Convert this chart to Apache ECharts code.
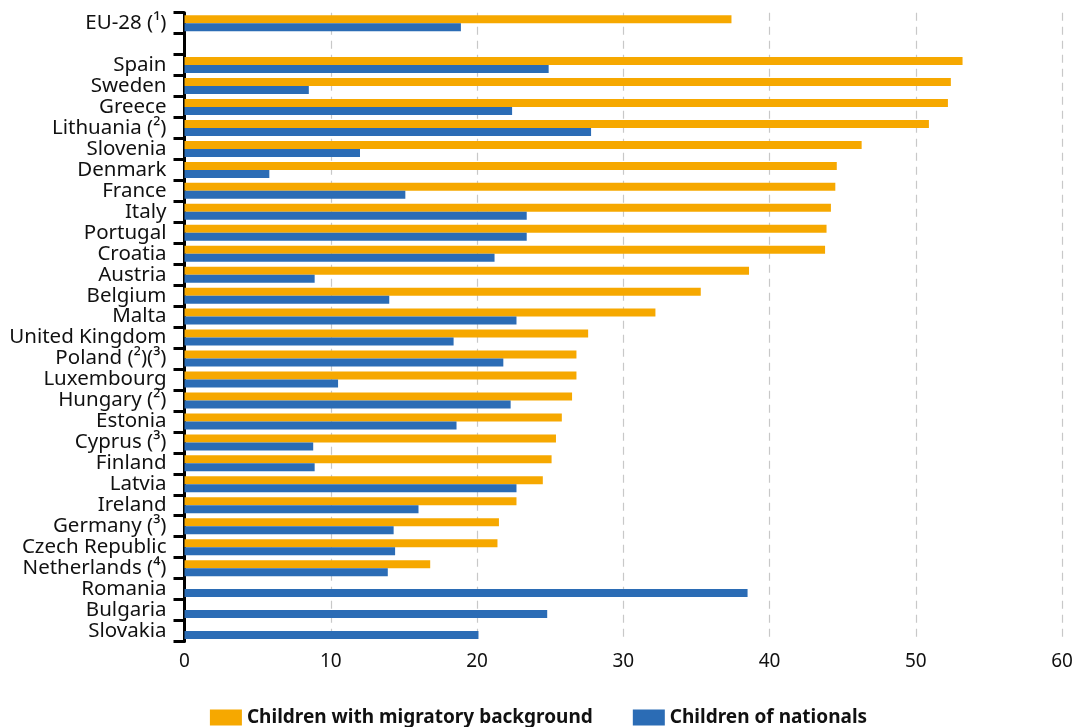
<!DOCTYPE html>
<html><head><meta charset="utf-8">
<script src="https://cdn.jsdelivr.net/npm/echarts@6/dist/echarts.min.js"></script>
<style>html,body{margin:0;padding:0;background:#fff}#c{width:1077px;height:727px}</style>
</head><body><div id="c"></div>
<script>
const categories = ['EU-28 (¹)', '', 'Spain', 'Sweden', 'Greece', 'Lithuania (²)', 'Slovenia', 'Denmark', 'France', 'Italy', 'Portugal', 'Croatia', 'Austria', 'Belgium', 'Malta', 'United Kingdom', 'Poland (²)(³)', 'Luxembourg', 'Hungary (²)', 'Estonia', 'Cyprus (³)', 'Finland', 'Latvia', 'Ireland', 'Germany (³)', 'Czech Republic', 'Netherlands (⁴)', 'Romania', 'Bulgaria', 'Slovakia'];
const migratory = [37.4, null, 53.2, 52.4, 52.2, 50.9, 46.3, 44.6, 44.5, 44.2, 43.9, 43.8, 38.6, 35.3, 32.2, 27.6, 26.8, 26.8, 26.5, 25.8, 25.4, 25.1, 24.5, 22.7, 21.5, 21.4, 16.8, null, null, null];
const nationals = [18.9, null, 24.9, 8.5, 22.4, 27.8, 12.0, 5.8, 15.1, 23.4, 23.4, 21.2, 8.9, 14.0, 22.7, 18.4, 21.8, 10.5, 22.3, 18.6, 8.8, 8.9, 22.7, 16.0, 14.3, 14.4, 13.9, 38.5, 24.8, 20.1];
const xTicks = [0, 10, 20, 30, 40, 50, 60];
const seriesNames = ['Children with migratory background', 'Children of nationals'];

const chart = echarts.init(document.getElementById('c'), null, {renderer: 'canvas'});
const FONT = 'Noto Sans';
chart.setOption({
  animation: false,
  grid: {left: 184.5, right: 15, top: 12.7, bottom: 85.5, containLabel: false},
  legend: {
    bottom: -5, left: 'center', itemWidth: 32, itemHeight: 16, itemGap: 40,
    textStyle: {fontFamily: FONT, fontWeight: 'bold', fontSize: 19, color: '#111'},
    data: seriesNames, icon: 'rect'
  },
  xAxis: {
    type: 'value', min: xTicks[0], max: xTicks[xTicks.length - 1], interval: 10,
    axisLine: {show: false}, axisTick: {show: false},
    axisLabel: {fontFamily: FONT, fontSize: 19, color: '#111', margin: 11},
    splitLine: {show: true, lineStyle: {type: [8, 6], color: '#c8c8c8', width: 1.2}}
  },
  yAxis: {
    type: 'category', inverse: true, data: categories,
    axisLine: {show: true, lineStyle: {color: '#000', width: 3}},
    axisTick: {show: true, length: 11, lineStyle: {color: '#000', width: 3}},
    axisLabel: {fontFamily: FONT, fontSize: 20.5, color: '#111', margin: 18, interval: 0},
    splitLine: {show: false}
  },
  series: [
    {name: seriesNames[0], type: 'bar', data: migratory, barWidth: 8, barGap: '0%',
     itemStyle: {color: '#F6A800'}},
    {name: seriesNames[1], type: 'bar', data: nationals, barWidth: 8, barGap: '0%',
     itemStyle: {color: '#2B6CB5'}}
  ]
});
</script></body></html>
